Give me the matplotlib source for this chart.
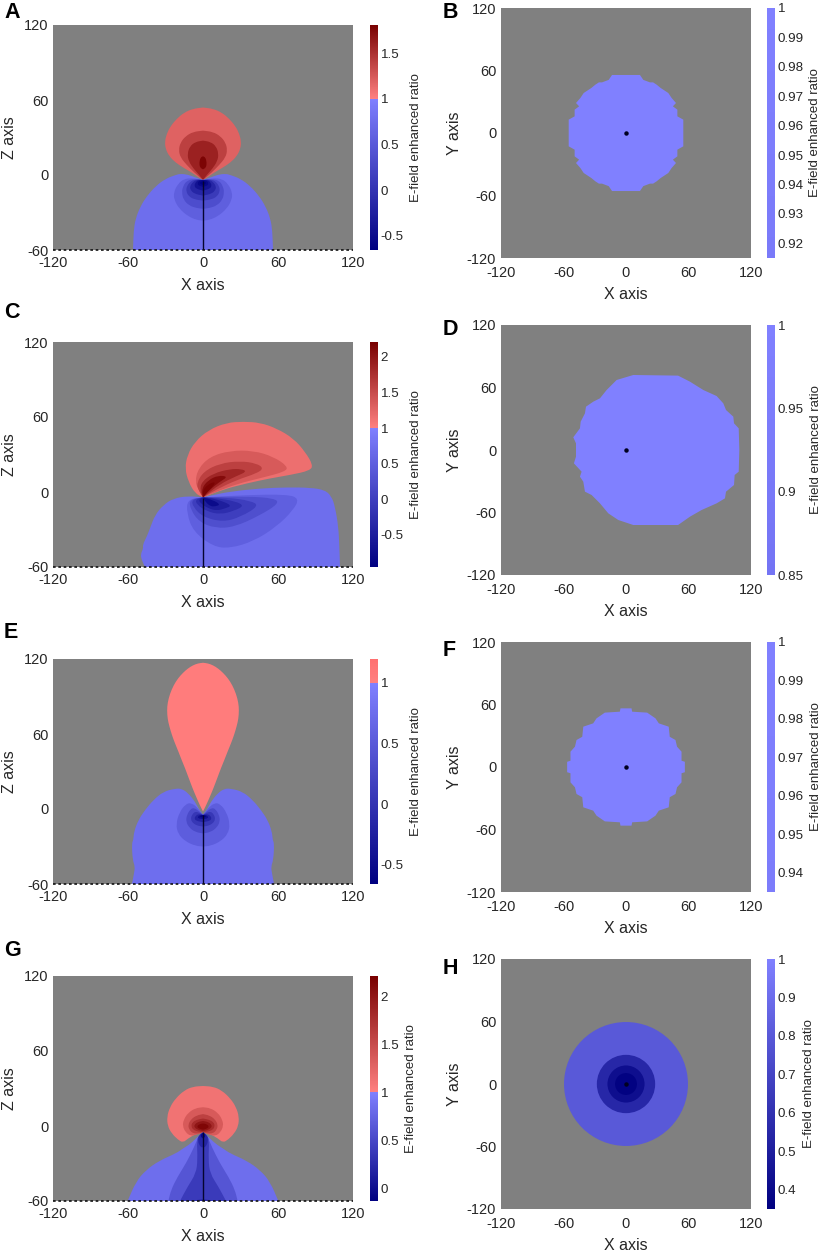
import numpy as np
import matplotlib
matplotlib.use('Agg')
from matplotlib import pyplot as plt
from matplotlib.cm import ScalarMappable
from matplotlib.colors import LinearSegmentedColormap, Normalize
from matplotlib.patches import Circle, PathPatch, Polygon
from matplotlib.path import Path

plt.rcParams['font.family'] = ['Liberation Sans', 'DejaVu Sans']
plt.rcParams['axes.unicode_minus'] = False

W, H = 823, 1255
GREY = '#808080'
TEXT = '#262626'
BLUE_TOP = '#8080ff'
RED_LOW = '#ff8080'

xz_ticks = [-120, -60, 0, 60, 120]
z_ticks = [-60, 0, 60, 120]

# Panel A, half-width / height outlines, x mirrored
a_red = [
    [(0,54),(8,53),(15,50),(21,45),(26,39),(29,33),(30.5,27),(30,21),(27,15),(22,10),(16,6),(9,2),(4,-1.5),(0,-4)],
    [(0,35.5),(8,34.5),(14,31),(18,26),(19.5,20),(18,14),(13,8),(7,2),(0,-4)],
    [(0,27.5),(6,26.5),(10.5,23),(12.5,17),(11.5,11),(7.5,5),(3,0),(0,-4)],
    [(0,15),(2,14),(3,10),(2.5,6),(0,4.5)],
]
a_red_vals = [1.19, 1.4, 1.6, 1.78]
a_blue = [
    [(56,-60),(55.5,-45),(54,-35),(50,-25),(45,-17),(38,-9),(30,-3),(22,0),(18,1),(12,0.3),(6,-2),(0,-4)],
    [(0,-4),(8,-2.5),(15,-3),(20,-7),(23.5,-14),(23,-20),(19,-27),(12,-33),(5,-36),(0,-36.5)],
    [(0,-4),(7,-3.2),(13,-4.5),(16,-9),(17,-14),(15.5,-20),(11,-24.5),(5,-26.5),(0,-27)],
    [(0,-4),(6,-3.5),(10,-5),(13,-9),(13.5,-13),(11.5,-17),(7,-19.5),(0,-20.5)],
    [(0,-4),(5,-3.8),(8,-5.5),(10.5,-9),(10,-12),(7,-15),(0,-16.5)],
    [(0,-4),(4,-4),(6,-6),(7,-8.5),(5.5,-11),(0,-12.5)],
    [(0,-4),(3,-4.5),(4.5,-6.5),(3.5,-8.5),(0,-9.5)],
    [(0,-5),(2,-5.5),(2.5,-6.5),(1.5,-7.5),(0,-8)],
]
a_blue_vals = [0.77, 0.57, 0.34, 0.09, -0.16, -0.41, -0.55, -0.65]

# Panel C is not symmetric, so full outlines
c_red = [
    [(0,-4.3),(-6.4,-1.1),(-11.7,8.3),(-14.4,18.9),(-12.5,29.6),(-6.4,40.3),(4.3,49.6),(18.9,55.5),(32.3,56.3),(45.6,55.5),(58.9,50.9),(72.3,42.9),(81.6,32.3),(88,21.6),(85.6,17.1),(69.6,13.6),(53.6,10.9),(34.9,6.9),(16.3,2.1)],
    [(0,-4.3),(-3.5,1.6),(-6.4,8.3),(-3.7,18.9),(5.6,28.3),(21.6,33.1),(40.3,33.1),(56.3,28.3),(68,20.3),(65.6,16.3),(48.3,11.7),(26.9,6.4),(10.9,0.3)],
    [(0,-4.3),(-3.7,1.6),(-5.1,6.9),(0.3,16.3),(13.6,22.9),(29.6,24.8),(42.9,22.9),(48.5,18.9),(42.9,14.9),(26.9,9.6),(10.9,2.1)],
    [(0,-4.3),(-2.4,1.1),(-1.1,8.3),(8.3,14.9),(21.6,18.4),(30.9,18.4),(35,16.3),(26.9,12.8),(13.6,6.4)],
    [(0,-4.3),(-1.1,2.9),(4.3,9.6),(12.3,13.3),(20,12.3),(13.6,8.3),(5.6,2.1)],
    [(0,-4.3),(-0.5,1.1),(4.3,6.4),(10,8.3),(8.3,4.8),(3.5,0)],
]
c_red_vals = [1.16, 1.36, 1.6, 1.85, 2.1, 2.18]
c_blue = [
    [(0,-4.3),(8.3,-2.4),(21.6,0.3),(45.6,2.9),(66.9,3.7),(85.6,3.5),(97.6,1.6),(102.9,-3.7),(105.6,-11.7),(108.3,-27.7),(109.1,-43.7),(109.6,-60),(-46.4,-60),(-49.1,-54.4),(-49.9,-49.6),(-47.7,-45.1),(-48.3,-42.4),(-45,-35.7),(-42.4,-29.1),(-38.4,-18.4),(-31.7,-10.4),(-23.7,-5.1),(-11.7,-3.2)],
    [(0,-4.3),(-12.5,-5.9),(-13,-17),(-7.7,-31.7),(8.3,-43.7),(21.6,-45),(40.3,-39.5),(58.9,-27.7),(72.3,-14.4),(77,-5.1),(66.9,-1.9),(34.9,-2.4)],
    [(0,-4.3),(-11,-6),(-10,-14),(-3,-24),(10,-29),(25,-28),(45,-19),(61,-9),(57,-5),(35,-3.5)],
    [(0,-4.3),(-9,-6),(-8,-12),(0,-20),(16,-24),(30,-20),(45,-11),(38,-7),(20,-4.5)],
    [(0,-4.3),(-6,-6),(-5,-10),(3,-15.5),(14,-18),(25,-15),(33,-11),(26,-7.5),(12,-5)],
    [(0,-4.3),(-3.5,-6),(-2,-9),(4,-13),(11,-15),(18,-13),(23,-11),(16,-7.5),(7,-5)],
    [(0,-4.3),(2,-8),(6,-11.5),(10,-11.5),(14,-10),(8,-6.5)],
]
c_blue_vals = [0.73, 0.5, 0.25, 0.0, -0.25, -0.5, -0.78]

# Panel E
e_red = [
    [(0,117),(4,116.5),(8,115),(12,112.5),(16,109),(20,104.5),(23.5,99),(26.5,92),(28.3,85),(28.8,79),(28.3,72),(26.9,66),(24.8,59),(22.4,52.5),(19.7,46),(17,39),(14.5,33),(11.7,25.5),(8.5,17),(5.6,10),(2.5,3),(0,-2)],
]
e_red_vals = [1.05]
e_blue = [
    [(56.8,-60),(55.2,-51.5),(54.4,-46.1),(56.3,-40.8),(57,-27.5),(55.7,-24.8),(55.2,-18.1),(51.7,-8.8),(46.4,-0.8),(39.7,7.2),(31.7,13.9),(22.4,16.3),(17,16.3),(11.7,12.5),(6.4,5.9),(3.7,0.5),(0,-4.8)],
    [(0,-4.8),(3.5,0),(9,5),(14,4),(19,-3),(21.6,-12),(20,-20),(14,-26),(6,-29.5),(0,-30)],
    [(0,-4.8),(3,-2),(7,1),(10,0),(13,-5),(13.6,-10),(11,-15),(6,-18.5),(0,-19.5)],
    [(0,-4.8),(3,-3),(6,-2),(8.5,-4),(10,-8),(8,-11.5),(4,-13.5),(0,-14)],
    [(0,-4.8),(3,-4),(5.5,-5),(7,-7.5),(5.5,-9.5),(0,-10.5)],
    [(0,-4.8),(2.5,-4.8),(4.5,-6.5),(3,-7.8),(0,-8)],
    [(0,-4.8),(1.5,-5.2),(2.5,-6),(1.5,-6.6),(0,-6.8)],
]
e_blue_vals = [0.77, 0.55, 0.3, 0.05, -0.2, -0.45, -0.62]

# Panel G
g_red = [
    [(0,32),(8,31.5),(15,28.5),(22,22),(26.5,15),(28.8,7.5),(28.3,0),(25,-6),(20,-11),(16,-13.3),(12,-10),(6,-6.5),(0,-5)],
    [(0,15),(6,14.3),(12,10.5),(15.5,5),(16.3,0),(14,-5),(10,-8),(5,-7),(0,-5)],
    [(0,9.5),(5,8.5),(9.5,5.5),(12,1),(11,-3),(8,-6),(3,-6),(0,-5)],
    [(0,6),(5,5),(8.5,3),(9.5,0),(8,-3),(4,-4.5),(0,-5)],
    [(0,4),(4,3.3),(7,1),(6.8,-1.5),(3,-3.5),(0,-4)],
    [(0,2),(3,1.5),(5,-0.5),(3,-2.2),(0,-3)],
]
g_red_vals = [1.12, 1.36, 1.6, 1.8, 2.0, 2.15]
g_blue = [
    [(60.3,-60),(53.6,-44.5),(45.6,-35.2),(34.9,-27.7),(21.6,-21.9),(16,-18),(9.6,-13.9),(4.3,-8.5),(0,-5.3)],
    [(27.7,-60),(25.6,-51.2),(20.3,-40.5),(13.6,-29.9),(6.9,-16.5),(4,-9),(0,-5.3)],
    [(18.4,-60),(12.3,-48.5),(5.6,-37.9),(4.3,-27),(5,-11),(3,-7),(0,-5.3)],
    [(8,-60),(4,-59),(0,-58.6)],
    [(0,-5.3),(3,-7),(4.3,-12),(2,-17),(0,-17)],
    [(0,-5.3),(1.5,-6.5),(2,-8.5),(0,-10)],
]
g_blue_vals = [0.84, 0.62, 0.38, 0.2, 0.2, -0.05]

# right column, first quadrant of the blocky outlines
b_outline = [(13.4,55.7),(16.6,51),(23,48.6),(26,48.6),(29.4,46.4),(33.3,43.2),(40.6,38.4),(43.8,33.6),(48,28.8),(45,25.6),(49.3,22.4),(49.3,16),(55,12.8),(55,0)]
f_outline = [(5.3,56.3),(5.9,53.1),(20.3,52.2),(28.3,46.7),(31.5,41.9),(41,38.7),(42,29),(47.5,25.9),(49,19.5),(53.3,14.7),(53.3,6),(56.5,5),(56.5,0)]
d_outline = [(7,72),(50,71.4),(61.4,65.6),(74.2,57.6),(87,51.8),(93.4,44.8),(96,38.4),(103,32),(103.7,25.6),(108.2,20.8),(108.8,0),(108.2,-20.8),(104.3,-24),(103.7,-33.6),(96,-40),(95,-46.4),(87,-51.2),(72.6,-57.6),(61.4,-64),(50,-72),(7,-72),(-7.4,-67.2),(-17,-60.8),(-25,-51.2),(-33,-43.2),(-39.4,-40),(-41,-30.4),(-44.2,-25.6),(-42.6,-20.8),(-50,-12.8),(-48,-6.4),(-48,6.4),(-50.6,12.2),(-44.2,20.8),(-43.5,27.2),(-39.4,35.2),(-38.4,41.6),(-31.4,46.4),(-25,49.6),(-18.6,57.6),(-9,67.2)]
h_radii = [59.5, 28, 17.8, 10.5]
h_vals = [0.8, 0.55, 0.42, 0.36]

# colorbar ranges and ticks
a_range = (-0.657, 1.807)
c_range = (-0.955, 2.21)
e_range = (-0.66, 1.198)
g_range = (-0.135, 2.21)
b_range = (0.915, 1.0)
d_range = (0.85, 1.0)
f_range = (0.935, 1.0)
h_range = (0.35, 1.0)
a_cticks = [-0.5, 0, 0.5, 1, 1.5]
c_cticks = [-0.5, 0, 0.5, 1, 1.5, 2]
e_cticks = [-0.5, 0, 0.5, 1]
g_cticks = [0, 0.5, 1, 1.5, 2]
b_cticks = [0.92, 0.93, 0.94, 0.95, 0.96, 0.97, 0.98, 0.99, 1]
d_cticks = [0.85, 0.9, 0.95, 1]
f_cticks = [0.94, 0.95, 0.96, 0.97, 0.98, 0.99, 1]
h_cticks = [0.4, 0.5, 0.6, 0.7, 0.8, 0.9, 1]


def mirror(pts):
    pts = np.array(pts, dtype=float)
    return np.vstack([pts, pts[::-1] * [-1, 1]])


def four_way(pts):
    q1 = np.array(pts, dtype=float)
    q4 = q1[::-1] * [1, -1]
    q3 = q1 * [-1, -1]
    q2 = q1[::-1] * [-1, 1]
    return np.vstack([q1, q4, q3, q2])


def smooth_patch(xy, color):
    # quadratic curves through edge midpoints, a doubled vertex stays a sharp corner
    ring = []
    for p in xy:
        ring.append(p)
        if p[1] <= -60:
            ring.append(p)
    ring = np.array(ring)
    nxt = np.roll(ring, -1, axis=0)
    mids = (ring + nxt) / 2
    verts = [mids[-1]]
    codes = [Path.MOVETO]
    for ctrl, mid in zip(ring, mids):
        verts += [ctrl, mid]
        codes += [Path.CURVE3, Path.CURVE3]
    return PathPatch(Path(verts, codes), fc=color, ec='none')


def make_cmap(vmin, vmax, low, high):
    split = (1 - vmin) / (vmax - vmin)
    nodes = [(0, low), (split, BLUE_TOP)]
    if vmax > 1:
        nodes += [(split, RED_LOW), (1, high)]
    return LinearSegmentedColormap.from_list('efield', nodes, N=512)


def px_axes(fig, left, top, width, height):
    return fig.add_axes([left / W, 1 - (top + height) / H, width / W, height / H])


def base_axes(ax, ylim, yticks, ylabel, pad, xlabel_y, ylabel_x):
    ax.set_facecolor(GREY)
    ax.set_xlim(-120, 120)
    ax.set_ylim(ylim)
    ax.set_xticks(xz_ticks)
    ax.set_yticks(yticks)
    ax.tick_params(length=0, labelsize=10.5, colors=TEXT)
    ax.tick_params(axis='y', pad=3.5)
    ax.tick_params(axis='x', pad=pad)
    for s in ax.spines.values():
        s.set_visible(False)
    ax.set_xlabel('X axis', fontsize=11.5, color=TEXT)
    ax.set_ylabel(ylabel, fontsize=11.5, color=TEXT)
    ax.xaxis.set_label_coords(0.5, xlabel_y)
    ax.yaxis.set_label_coords(ylabel_x, 0.5)


def add_cbar(fig, left, top, height, vrange, cticks, low, high, label_x):
    norm = Normalize(*vrange)
    cmap = make_cmap(vrange[0], vrange[1], low, high)
    cax = px_axes(fig, left, top, 8, height)
    cb = fig.colorbar(ScalarMappable(norm=norm, cmap=cmap), cax=cax)
    cb.outline.set_visible(False)
    cb.set_ticks(cticks)
    cb.set_ticklabels([f'{t:g}' for t in cticks])
    cax.tick_params(length=0, labelsize=9.6, colors=TEXT, pad=2)
    cb.set_label('E-field enhanced ratio', fontsize=9.5, color=TEXT)
    # the label anchor sits about 5 px left of the text centre
    cax.yaxis.set_label_coords((label_x - 5 - left) / 8, 0.5)
    return norm, cmap


def left_panel(fig, top, vrange, cticks, high, label_x, reds, red_vals, blues, blue_vals, mirrored=True):
    ax = px_axes(fig, 53, top, 300, 225)
    base_axes(ax, (-60, 120), z_ticks, 'Z axis', 4.5, -0.125, -0.12)
    norm, cmap = add_cbar(fig, 370, top, 225, vrange, cticks, '#000080', high, label_x)
    for pts, v in list(zip(reds, red_vals)) + list(zip(blues, blue_vals)):
        if mirrored:
            xy = mirror(pts)
        else:
            # first point is the tip shared by all lobes, keep it sharp
            xy = np.vstack([np.array(pts[:1], dtype=float), np.array(pts, dtype=float)])
        ax.add_patch(smooth_patch(xy, cmap(norm(v))))
    ax.plot([0, 0], [-60, -5], color='#050530', lw=1.0, solid_capstyle='butt')
    ax.plot([-120, 120], [-60, -60], color='#111111', lw=1.2, ls=(0, (1.6, 1.6)), clip_on=False)
    return ax


def right_panel(fig, top, vrange, cticks, low, label_x):
    ax = px_axes(fig, 501, top, 250, 250)
    base_axes(ax, (-120, 120), xz_ticks, 'Y axis', 6, -0.115, -0.155)
    norm, cmap = add_cbar(fig, 767, top, 250, vrange, cticks, low, None, label_x)
    return ax, norm, cmap


fig = plt.figure(figsize=(W / 100, H / 100), dpi=100, facecolor='white')

left_panel(fig, 25, a_range, a_cticks, '#780000', 415, a_red, a_red_vals, a_blue, a_blue_vals)
left_panel(fig, 342, c_range, c_cticks, '#780000', 415, c_red, c_red_vals, c_blue, c_blue_vals, mirrored=False)
left_panel(fig, 659, e_range, e_cticks, '#ff7070', 415, e_red, e_red_vals, e_blue, e_blue_vals)
left_panel(fig, 976, g_range, g_cticks, '#780000', 410, g_red, g_red_vals, g_blue, g_blue_vals)

ax, norm, cmap = right_panel(fig, 8, b_range, b_cticks, '#7a7af9', 814)
ax.add_patch(Polygon(four_way(b_outline), closed=True, fc=cmap(norm(0.995)), ec='none'))
ax.plot(0, 0, 'o', color='#000020', ms=2.2)

ax, norm, cmap = right_panel(fig, 325, d_range, d_cticks, '#7474f4', 815)
ax.add_patch(Polygon(np.array(d_outline), closed=True, fc=cmap(norm(0.995)), ec='none'))
ax.plot(0, 0, 'o', color='#000020', ms=2.2)

ax, norm, cmap = right_panel(fig, 642, f_range, f_cticks, '#7c7cfb', 815)
ax.add_patch(Polygon(four_way(f_outline), closed=True, fc=cmap(norm(0.995)), ec='none'))
ax.plot(0, 0, 'o', color='#000020', ms=2.2)

ax, norm, cmap = right_panel(fig, 959, h_range, h_cticks, '#000080', 808)
for r, v in zip(h_radii, h_vals):
    ax.add_patch(Circle((0, 0), r, fc=cmap(norm(v)), ec='none'))
ax.plot(0, 0, 'o', color='#000020', ms=2.2)

# panel letters
for letter, x, y in [('A', 4, 12), ('B', 443, 13), ('C', 4, 312), ('D', 443, 329),
                     ('E', 4, 632), ('F', 443, 651), ('G', 4, 951), ('H', 443, 968)]:
    fig.text(x / W, 1 - y / H, letter, fontsize=15.5, fontweight='bold', color='black', va='center')

fig.savefig('out.png', dpi=100)
